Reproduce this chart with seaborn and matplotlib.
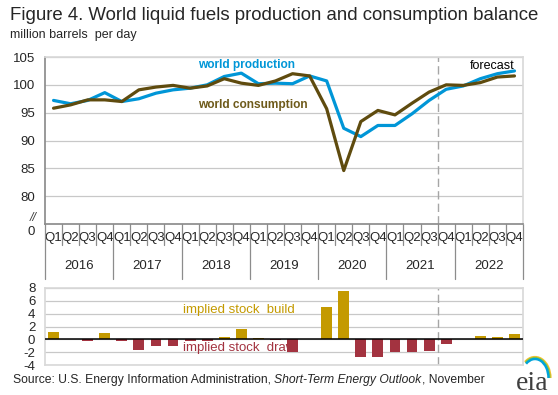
import matplotlib
matplotlib.use('Agg')
import matplotlib.pyplot as plt
import matplotlib.transforms as mtransforms
from matplotlib.patches import Arc
import numpy as np
import pandas as pd
import seaborn as sns

# quarterly values, million barrels per day (2016Q1 .. 2022Q4)
years = ['2016', '2017', '2018', '2019', '2020', '2021', '2022']
quarters = ['Q1', 'Q2', 'Q3', 'Q4']
production = [97.2, 96.6, 97.2, 98.6, 97.0, 97.5, 98.5, 99.1, 99.4, 100.0, 101.5, 102.1, 100.2, 100.3,
              100.2, 101.6, 100.7, 92.2, 90.7, 92.7, 92.7, 94.8, 97.2, 99.2, 99.8, 101.1, 102.0, 102.5]
consumption = [95.8, 96.4, 97.3, 97.3, 97.0, 99.1, 99.6, 99.9, 99.4, 99.8, 101.1, 100.3, 99.9, 100.7,
               102.0, 101.6, 95.7, 84.6, 93.4, 95.4, 94.6, 96.7, 98.7, 100.0, 99.9, 100.4, 101.4, 101.6]
stock_change = [1.1, 0.0, -0.2, 1.0, -0.2, -1.7, -1.0, -1.0, -0.2, -0.2, 0.4, 1.65, 0.2, -0.1,
                -2.0, 0.0, 5.0, 7.6, -2.7, -2.8, -2.0, -2.0, -1.8, -0.7, 0.0, 0.55, 0.4, 0.85]
forecast_start = 23  # 2021Q4

blue = '#0096D7'
brown = '#5F4B0E'
gold = '#C49A00'
red = '#A33340'
grid_c = '#C8C8C8'
axis_c = '#8C8C8C'

n = len(production)
idx = np.arange(n)
df = pd.DataFrame({'q': idx, 'production': production, 'consumption': consumption,
                   'stock': stock_change})
df['sign'] = np.where(df['stock'] >= 0, 'build', 'draw')

sns.set_theme(style='white')
plt.rcParams['font.family'] = ['Liberation Sans', 'DejaVu Sans']

fig = plt.figure(figsize=(5.58, 3.95), dpi=100)
W, H = 558, 395
ax = fig.add_axes([45 / W, 1 - 224 / H, 478 / W, 167 / H])
ax2 = fig.add_axes([45 / W, 1 - 365 / H, 478 / W, 77 / H])

# ---- top panel: lines
sns.lineplot(data=df, x='q', y='production', color=blue, lw=2.3, ax=ax, zorder=3)
sns.lineplot(data=df, x='q', y='consumption', color=brown, lw=2.3, ax=ax, zorder=4)
ax.set_xlim(-0.5, n - 0.5)
ax.set_ylim(75, 105)
ax.set_yticks([80, 85, 90, 95, 100, 105])
ax.set_yticklabels(['80', '85', '90', '95', '100', '105'], fontsize=9.5)
ax.yaxis.grid(True, color=grid_c, lw=0.9)
ax.set_xlabel('')
ax.set_ylabel('')
for s in ['top', 'right']:
    ax.spines[s].set_color('#D9D9D9')
for s in ['left', 'bottom']:
    ax.spines[s].set_color(axis_c)
ax.tick_params(axis='y', length=0, pad=7)
ax.set_xticks(idx)
ax.set_xticklabels(quarters * len(years), fontsize=9.5)
ax.tick_params(axis='x', length=0, pad=6)
ax.axvline(forecast_start - 0.5, color='#A6A6A6', lw=1, ls=(0, (6, 3)), zorder=2)

# broken axis marker and zero label
ax.text(-0.024, 0.036, '//', transform=ax.transAxes, ha='center', va='center',
        fontsize=9, style='italic', color='#404040')
ax.text(-0.021, -0.045, '0', transform=ax.transAxes, ha='right', va='center', fontsize=9.5)

# category separators below the axis
trans = mtransforms.blended_transform_factory(ax.transData, ax.transAxes)
for k in range(n + 1):
    yr = (k % 4 == 0)
    ax.plot([k - 0.5, k - 0.5], [0, -0.33 if yr else -0.125], transform=trans,
            color=axis_c, lw=0.9, clip_on=False)
for i, y in enumerate(years):
    ax.text(4 * i + 1.5, -0.252, y, transform=trans, ha='center', va='center', fontsize=9.5)

ax.text(8.45, 103.6, 'world production', color=blue, fontsize=8.6, fontweight='bold',
        ha='left', va='center')
ax.text(8.45, 96.3, 'world consumption', color='#6E5A1A', fontsize=8.6, fontweight='bold',
        ha='left', va='center')
ax.text(24.4, 103.4, 'forecast', color='black', fontsize=9, ha='left', va='center')

# ---- bottom panel: implied stock change
sns.barplot(data=df, x='q', y='stock', hue='sign', palette={'build': gold, 'draw': red},
            order=list(idx), dodge=False, width=0.64, linewidth=0, saturation=1,
            legend=False, ax=ax2, zorder=3)
ax2.set_xlim(-0.5, n - 0.5)
ax2.set_ylim(-4, 8)
ax2.set_yticks([-4, -2, 0, 2, 4, 6, 8])
ax2.set_yticklabels(['-4', '-2', '0', '2', '4', '6', '8'], fontsize=9.5)
ax2.yaxis.grid(True, color=grid_c, lw=0.9)
ax2.tick_params(axis='y', length=0, pad=7)
ax2.set_xticks([])
ax2.set_xlabel('')
ax2.set_ylabel('')
for s in ax2.spines.values():
    s.set_color('#D9D9D9')
ax2.axhline(0, color='black', lw=1.1, zorder=4)
ax2.axvline(forecast_start - 0.5, color='#A6A6A6', lw=1, ls=(0, (6, 3)), zorder=2)
ax2.text(7.6, 4.6, 'implied stock  build', color=gold, fontsize=9.5, ha='left', va='center',
         zorder=1)
ax2.text(7.6, -1.4, 'implied stock  draw', color=red, fontsize=9.5, ha='left', va='center',
         zorder=1)

# ---- titles and source
fig.text(10 / W, 1 - 15 / H, 'Figure 4. World liquid fuels production and consumption balance',
         fontsize=13.4, ha='left', va='center')
fig.text(10 / W, 1 - 35 / H, 'million barrels  per day', fontsize=9, ha='left', va='center')
src = fig.text(13 / W, 1 - 380 / H, 'Source: U.S. Energy Information Administration, ',
               fontsize=8.7, ha='left', va='center')
fig.canvas.draw()
bb = src.get_window_extent()
it = fig.text(bb.x1 / fig.bbox.width, 1 - 380 / H, 'Short-Term Energy Outlook',
              fontsize=8.7, style='italic', ha='left', va='center')
bb2 = it.get_window_extent()
fig.text(bb2.x1 / fig.bbox.width, 1 - 380 / H, ', November', fontsize=8.7, ha='left', va='center')

# ---- logo
lg = fig.add_axes([508 / W, 1 - 395 / H, 46 / W, 46 / H])
lg.set_xlim(0, 46)
lg.set_ylim(0, 46)
lg.axis('off')
lg.text(24, 12, 'eia', fontsize=20, family='Liberation Serif', color='#3F3F3F',
        ha='center', va='center')
for dw, c, lw in [(4, '#F2C12E', 1.6), (2, '#8DC63F', 1.6), (0, '#00A3D9', 1.8)]:
    lg.add_patch(Arc((27, 17), 27 + dw, 38 + dw, theta1=0, theta2=122, color=c, lw=lw,
                     clip_on=False))

fig.savefig('out.png', dpi=100)
